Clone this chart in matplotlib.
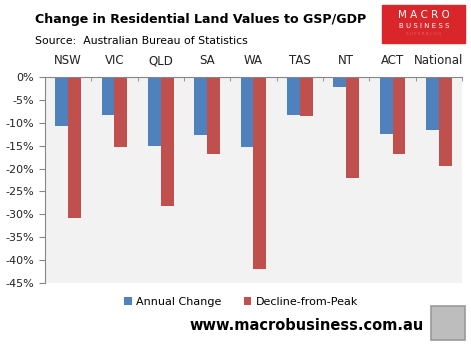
import numpy as np
import matplotlib.pyplot as plt
from matplotlib.patches import Rectangle

# Data (percent change)
regions = ['NSW', 'VIC', 'QLD', 'SA', 'WA', 'TAS', 'NT', 'ACT', 'National']
annual_change = [-10.6, -8.4, -15.0, -12.6, -15.2, -8.2, -2.1, -12.4, -11.5]
decline_from_peak = [-30.8, -15.4, -28.1, -16.9, -41.9, -8.6, -22.0, -16.9, -19.4]
yticks = [0, -5, -10, -15, -20, -25, -30, -35, -40, -45]

blue = '#4F81BD'
red = '#C0504D'
axis_grey = '#868686'

fig = plt.figure(figsize=(4.71, 3.5), dpi=100)
ax = fig.add_axes([45 / 471, 1 - 283 / 350, 417 / 471, 206 / 350])
ax.set_facecolor('#F2F2F2')

x = np.arange(len(regions))
w = 0.28
ax.bar(x - w / 2, annual_change, w, color=blue, label='Annual Change')
ax.bar(x + w / 2, decline_from_peak, w, color=red, label='Decline-from-Peak')

ax.set_xlim(-0.5, len(regions) - 0.5)
ax.set_ylim(-45, 0)
ax.set_yticks(yticks)
ax.set_yticklabels([f'{v}%' for v in yticks], fontsize=8, color='#222222')
ax.tick_params(axis='y', length=4, color=axis_grey, pad=4)

# category labels on top, ticks at the category boundaries
ax.xaxis.tick_top()
ax.set_xticks(x)
ax.set_xticklabels(regions, fontsize=8.5, color='#222222')
ax.tick_params(axis='x', which='major', length=0, pad=7)
ax.set_xticks(np.arange(-0.5, len(regions)), minor=True)
ax.tick_params(axis='x', which='minor', direction='in', length=3, color=axis_grey, top=True)

for side in ['right', 'bottom']:
    ax.spines[side].set_visible(False)
ax.spines['top'].set_color(axis_grey)
ax.spines['left'].set_color(axis_grey)

fig.legend(loc='center', bbox_to_anchor=(241 / 471, 1 - 302 / 350), ncol=2, frameon=False,
           fontsize=8, handlelength=0.7, handleheight=0.7, handletextpad=0.4, columnspacing=2.0)

fig.text(35 / 471, 1 - 20 / 350, 'Change in Residential Land Values to GSP/GDP',
         fontsize=9.1, fontweight='bold', va='center', ha='left')
fig.text(35 / 471, 1 - 41 / 350, 'Source:  Australian Bureau of Statistics',
         fontsize=7.8, va='center', ha='left')

# MacroBusiness logo box
fig.patches.append(Rectangle((382 / 471, 1 - 43 / 350), 83 / 471, 38 / 350,
                             transform=fig.transFigure, color='#D9262B', zorder=0))
fig.text(424 / 471, 1 - 15 / 350, 'M A C R O', color='white', fontsize=7.5,
         ha='center', va='center')
fig.text(424 / 471, 1 - 26 / 350, 'B U S I N E S S', color='white', fontsize=5,
         ha='center', va='center')
fig.text(424 / 471, 1 - 34 / 350, 'S U P E R B L O G', color='#E86066', fontsize=3,
         ha='center', va='center')

fig.text(307 / 471, 1 - 326 / 350, 'www.macrobusiness.com.au',
         fontsize=10.5, fontweight='bold', ha='center', va='center')

# wolf picture placeholder
fig.patches.append(Rectangle((431 / 471, 1 - 340 / 350), 34 / 471, 34 / 350,
                             transform=fig.transFigure, facecolor='#BDBDBD',
                             edgecolor='#999999', linewidth=1.2))

fig.savefig('out.png', dpi=100)
